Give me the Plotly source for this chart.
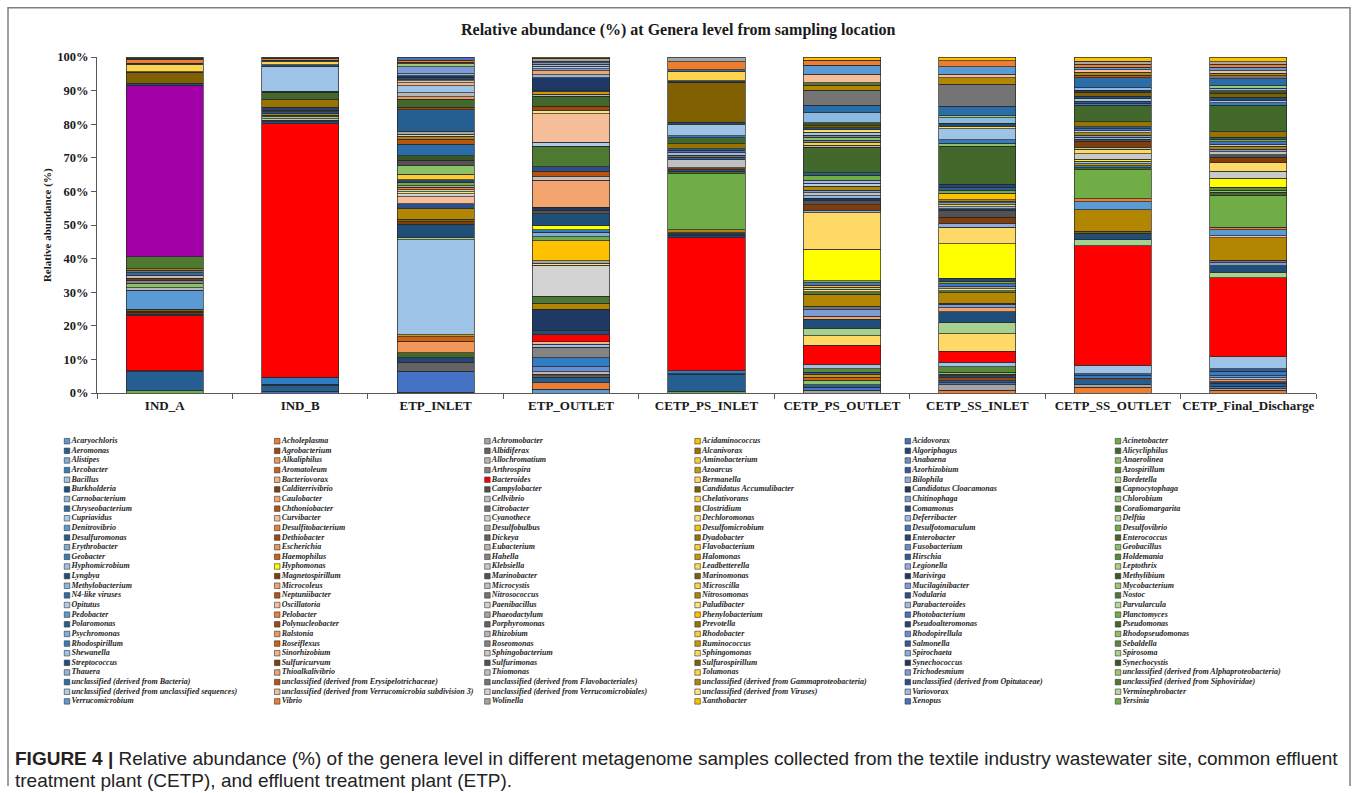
import colorsys
import plotly.graph_objects as go

# ---------------------------------------------------------------- data
SAMPLES = ["IND_A", "IND_B", "ETP_INLET", "ETP_OUTLET", "CETP_PS_INLET",
           "CETP_PS_OUTLET", "CETP_SS_INLET", "CETP_SS_OUTLET", "CETP_Final_Discharge"]

GENERA = [
    "Acaryochloris", "Acholeplasma", "Achromobacter", "Acidaminococcus", "Acidovorax", "Acinetobacter",
    "Aeromonas", "Agrobacterium", "Albidiferax", "Alcanivorax", "Algoriphagus", "Alicycliphilus",
    "Alistipes", "Alkaliphilus", "Allochromatium", "Aminobacterium", "Anabaena", "Anaerolinea",
    "Arcobacter", "Aromatoleum", "Arthrospira", "Azoarcus", "Azorhizobium", "Azospirillum",
    "Bacillus", "Bacteriovorax", "Bacteroides", "Bermanella", "Bilophila", "Bordetella",
    "Burkholderia", "Calditerrivibrio", "Campylobacter", "Candidatus Accumulibacter", "Candidatus Cloacamonas", "Capnocytophaga",
    "Carnobacterium", "Caulobacter", "Cellvibrio", "Chelativorans", "Chitinophaga", "Chlorobium",
    "Chryseobacterium", "Chthoniobacter", "Citrobacter", "Clostridium", "Comamonas", "Coraliomargarita",
    "Cupriavidus", "Curvibacter", "Cyanothece", "Dechloromonas", "Deferribacter", "Delftia",
    "Denitrovibrio", "Desulfitobacterium", "Desulfobulbus", "Desulfomicrobium", "Desulfotomaculum", "Desulfovibrio",
    "Desulfuromonas", "Dethiobacter", "Dickeya", "Dyadobacter", "Enterobacter", "Enterococcus",
    "Erythrobacter", "Escherichia", "Eubacterium", "Flavobacterium", "Fusobacterium", "Geobacillus",
    "Geobacter", "Haemophilus", "Hahella", "Halomonas", "Hirschia", "Holdemania",
    "Hyphomicrobium", "Hyphomonas", "Klebsiella", "Leadbetterella", "Legionella", "Leptothrix",
    "Lyngbya", "Magnetospirillum", "Marinobacter", "Marinomonas", "Marivirga", "Methylibium",
    "Methylobacterium", "Microcoleus", "Microcystis", "Microscilla", "Mucilaginibacter", "Mycobacterium",
    "N4-like viruses", "Neptuniibacter", "Nitrosococcus", "Nitrosomonas", "Nodularia", "Nostoc",
    "Opitutus", "Oscillatoria", "Paenibacillus", "Paludibacter", "Parabacteroides", "Parvularcula",
    "Pedobacter", "Pelobacter", "Phaeodactylum", "Phenylobacterium", "Photobacterium", "Planctomyces",
    "Polaromonas", "Polynucleobacter", "Porphyromonas", "Prevotella", "Pseudoalteromonas", "Pseudomonas",
    "Psychromonas", "Ralstonia", "Rhizobium", "Rhodobacter", "Rhodopirellula", "Rhodopseudomonas",
    "Rhodospirillum", "Roseiflexus", "Roseomonas", "Ruminococcus", "Salmonella", "Sebaldella",
    "Shewanella", "Sinorhizobium", "Sphingobacterium", "Sphingomonas", "Spirochaeta", "Spirosoma",
    "Streptococcus", "Sulfuricurvum", "Sulfurimonas", "Sulfurospirillum", "Synechococcus", "Synechocystis",
    "Thauera", "Thioalkalivibrio", "Thiomonas", "Tolumonas", "Trichodesmium",
    "unclassified (derived from Alphaproteobacteria)",
    "unclassified (derived from Bacteria)", "unclassified (derived from Erysipelotrichaceae)",
    "unclassified (derived from Flavobacteriales)", "unclassified (derived from Gammaproteobacteria)",
    "unclassified (derived from Opitutaceae)", "unclassified (derived from Siphoviridae)",
    "unclassified (derived from unclassified sequences)", "unclassified (derived from Verrucomicrobia subdivision 3)",
    "unclassified (derived from Verrucomicrobiales)", "unclassified (derived from Viruses)",
    "Variovorax", "Verminephrobacter",
    "Verrucomicrobium", "Vibrio", "Wolinella", "Xanthobacter", "Xenopus", "Yersinia",
]

UB = "unclassified (derived from Bacteria)"
UE = "unclassified (derived from Erysipelotrichaceae)"
UF = "unclassified (derived from Flavobacteriales)"
UG = "unclassified (derived from Gammaproteobacteria)"
US = "unclassified (derived from Siphoviridae)"
UA = "unclassified (derived from Alphaproteobacteria)"
UV3 = "unclassified (derived from Verrucomicrobia subdivision 3)"
UU = "unclassified (derived from unclassified sequences)"

# relative abundance (%) of each genus per sample
IND_A = {
    "Acinetobacter": 0.7, "Aeromonas": 5.6, "Algoriphagus": 0.3, "Bacteroides": 16.4,
    "Burkholderia": 0.5, "Calditerrivibrio": 0.5, "Campylobacter": 0.4, "Candidatus Accumulibacter": 0.5,
    "Denitrovibrio": 5.6, "Eubacterium": 0.8, "Geobacillus": 1.4, "Hahella": 0.8,
    "Magnetospirillum": 0.7, "Microcystis": 0.8, "N4-like viruses": 0.8, "Nitrosococcus": 0.7,
    "Nitrosomonas": 0.5, "Nostoc": 3.5, "Pseudomonas": 51.1, "Streptococcus": 0.5,
    "Sulfurospirillum": 3.1, "Synechococcus": 0.3, "Tolumonas": 2.1, UB: 0.4,
    "Vibrio": 1.2, "Xenopus": 0.4, "Yersinia": 0.3,
}
IND_B = {
    "Acidovorax": 0.6, "Aeromonas": 1.6, "Algoriphagus": 0.4, "Arcobacter": 1.9, "Azorhizobium": 0.2,
    "Bacteroides": 75.4, "Burkholderia": 0.6, "Campylobacter": 0.5, "Cellvibrio": 0.5,
    "Chlorobium": 0.5, "Citrobacter": 0.5, "Clostridium": 0.4, "Comamonas": 0.6, "Dickeya": 0.5,
    "Enterobacter": 0.8, "Prevotella": 2.4, "Pseudomonas": 2.1, "Salmonella": 0.4,
    "Shewanella": 7.2, "Streptococcus": 0.6, "Tolumonas": 0.9, UB: 0.5, "Vibrio": 0.6, "Xenopus": 0.3,
}
ETP_INLET = {
    "Achromobacter": 0.3, "Acidovorax": 6.2, "Albidiferax": 2.6, "Algoriphagus": 1.4,
    "Alicycliphilus": 1.5, "Alkaliphilus": 3.4, "Aromatoleum": 1.3, "Azoarcus": 0.7,
    "Bacillus": 28.3, "Bordetella": 0.6, "Burkholderia": 4.0, "Calditerrivibrio": 0.7,
    "Candidatus Accumulibacter": 0.7, "Clostridium": 3.2, "Comamonas": 1.5, "Curvibacter": 2.1,
    "Cyanothece": 0.8, "Dechloromonas": 0.6, "Delftia": 0.6, "Desulfitobacterium": 0.8,
    "Desulfobulbus": 0.4, "Desulfovibrio": 1.0, "Enterobacter": 0.8, "Flavobacterium": 1.7,
    "Geobacillus": 2.5, "Marinobacter": 1.6, "Methylibium": 1.3, "N4-like viruses": 3.4,
    "Neptuniibacter": 1.6, "Nitrosomonas": 0.8, "Paenibacillus": 0.6, "Phaeodactylum": 0.9,
    "Polaromonas": 6.5, "Polynucleobacter": 0.6, "Pseudomonas": 2.4, "Ralstonia": 0.8,
    "Rhizobium": 1.2, "Shewanella": 2.0, "Sinorhizobium": 0.9, "Sphingobacterium": 0.6,
    "Sphingomonas": 0.5, "Streptococcus": 0.6, "Synechococcus": 0.5, "Thauera": 0.5,
    "Trichodesmium": 2.2, UA: 0.8, UE: 0.5, "Vibrio": 0.6, "Xenopus": 0.9,
}
ETP_OUTLET = {
    "Acaryochloris": 1.1, "Acholeplasma": 2.0, "Aeromonas": 1.6, "Albidiferax": 0.4,
    "Alkaliphilus": 0.5, "Allochromatium": 0.7, "Anabaena": 1.5, "Arcobacter": 2.7,
    "Arthrospira": 3.2, "Bacillus": 0.8, "Bacteriovorax": 0.8, "Bacteroides": 2.0,
    "Burkholderia": 1.3, "Candidatus Cloacamonas": 6.4, "Clostridium": 1.8, "Coraliomargarita": 2.0,
    "Cyanothece": 9.2, "Dechloromonas": 0.6, "Desulfobulbus": 0.8, "Desulfomicrobium": 5.9,
    "Desulfovibrio": 1.2, "Erythrobacter": 1.4, "Geobacter": 0.7, "Hyphomonas": 1.2,
    "Lyngbya": 3.6, "Marinobacter": 1.0, "Marivirga": 0.9, "Microcoleus": 8.1,
    "Microcystis": 1.0, "Neptuniibacter": 1.6, "Nodularia": 1.3, "Nostoc": 6.2,
    "Opitutus": 1.2, "Oscillatoria": 8.4, "Paludibacter": 1.1, "Polynucleobacter": 1.2,
    "Pseudomonas": 2.9, "Rhizobium": 0.6, "Ruminococcus": 0.8, "Salmonella": 0.3,
    "Synechococcus": 3.8, "Thauera": 1.0, "Thioalkalivibrio": 1.1, "Trichodesmium": 0.6,
    UU: 0.8, "Variovorax": 0.6, "Verrucomicrobium": 0.4, "Vibrio": 0.5, "Wolinella": 0.8,
    "Xanthobacter": 0.4,
}
CETP_PS_INLET = {
    "Acinetobacter": 0.5, "Aeromonas": 4.9, "Algoriphagus": 0.3, "Arcobacter": 0.9,
    "Bacteroides": 39.6, "Burkholderia": 0.7, "Candidatus Cloacamonas": 0.7, "Clostridium": 0.8,
    "Desulfovibrio": 16.7, "Enterococcus": 0.6, "Lyngbya": 0.6, "Magnetospirillum": 0.6,
    "Microcystis": 2.5, "N4-like viruses": 0.6, "Nitrosococcus": 0.5, "Parabacteroides": 0.8,
    "Photobacterium": 0.8, "Polaromonas": 0.4, "Prevotella": 1.5, "Pseudomonas": 1.7,
    "Rhodospirillum": 0.7, "Shewanella": 3.3, "Streptococcus": 0.7, "Sulfurospirillum": 11.8,
    "Synechococcus": 0.5, "Tolumonas": 2.8, UB: 0.4, "Vibrio": 2.4, "Wolinella": 1.4,
}
CETP_PS_OUTLET = {
    "Achromobacter": 0.9, "Acidovorax": 0.8, "Aeromonas": 0.8, "Anaerolinea": 1.3,
    "Aromatoleum": 0.9, "Azoarcus": 0.9, "Azorhizobium": 0.6, "Azospirillum": 1.0,
    "Bacillus": 1.3, "Bacteroides": 5.8, "Bermanella": 2.7, "Bordetella": 2.3,
    "Burkholderia": 2.6, "Caulobacter": 1.0, "Chitinophaga": 1.9, "Citrobacter": 1.0,
    "Clostridium": 3.6, "Coraliomargarita": 0.8, "Dechloromonas": 0.7, "Delftia": 0.6,
    "Desulfomicrobium": 0.6, "Desulfotomaculum": 0.8, "Desulfovibrio": 0.6, "Hyphomonas": 9.3,
    "Leadbetterella": 10.8, "Legionella": 0.8, "Magnetospirillum": 1.6, "Marinobacter": 1.2,
    "Marivirga": 0.8, "Methylobacterium": 0.8, "Microcystis": 0.8, "Mucilaginibacter": 0.8,
    "Nitrosomonas": 1.2, "Opitutus": 0.9, "Parabacteroides": 0.9, "Planctomyces": 1.4,
    "Polaromonas": 0.8, "Pseudomonas": 7.5, "Rhizobium": 0.7, "Rhodobacter": 0.8,
    "Rhodopirellula": 0.7, "Rhodopseudomonas": 0.9, "Roseomonas": 0.6, "Shewanella": 0.9,
    "Sphingomonas": 0.7, "Streptococcus": 0.6, "Sulfurospirillum": 0.6, "Synechocystis": 0.9,
    "Thauera": 3.0, UB: 2.2, UF: 4.5, UG: 1.4, US: 0.8, UV3: 2.5,
    "Verrucomicrobium": 2.7, "Vibrio": 1.4, "Xanthobacter": 1.0,
}
CETP_SS_INLET = {
    "Acholeplasma": 0.9, "Achromobacter": 1.6, "Acidovorax": 0.5, "Aeromonas": 0.7,
    "Agrobacterium": 0.8, "Algoriphagus": 0.6, "Alicycliphilus": 0.5, "Anaerolinea": 0.6,
    "Azospirillum": 1.6, "Bacillus": 1.3, "Bacteroides": 3.3, "Bermanella": 5.2,
    "Bordetella": 3.4, "Burkholderia": 3.2, "Caulobacter": 1.2, "Chitinophaga": 1.0,
    "Citrobacter": 0.4, "Clostridium": 3.0, "Coraliomargarita": 0.7, "Dechloromonas": 0.6,
    "Desulfobulbus": 0.6, "Desulfotomaculum": 0.8, "Desulfovibrio": 0.8, "Enterobacter": 0.8,
    "Hyphomonas": 10.3, "Leadbetterella": 5.0, "Legionella": 1.2, "Magnetospirillum": 1.8,
    "Marinobacter": 1.8, "Marivirga": 0.6, "Methylobacterium": 0.6, "Microscilla": 0.6,
    "Mucilaginibacter": 0.6, "Mycobacterium": 0.5, "Nitrosomonas": 0.5, "Phenylobacterium": 1.8,
    "Planctomyces": 0.9, "Polaromonas": 0.8, "Pseudoalteromonas": 1.0, "Pseudomonas": 11.4,
    "Rhodopseudomonas": 0.9, "Rhodospirillum": 1.0, "Shewanella": 3.2, "Sphingomonas": 0.8,
    "Streptococcus": 0.9, "Thauera": 1.6, UA: 0.6, UB: 2.9, UF: 6.5, UG: 2.0, UV3: 1.0,
    "Verrucomicrobium": 2.2, "Vibrio": 1.8, "Xanthobacter": 1.1,
}
CETP_SS_OUTLET = {
    "Acholeplasma": 1.7, "Achromobacter": 0.8, "Aeromonas": 1.4, "Alkaliphilus": 0.5,
    "Arcobacter": 0.8, "Azorhizobium": 0.6, "Bacillus": 2.5, "Bacteroides": 35.6,
    "Bordetella": 1.8, "Burkholderia": 1.9, "Candidatus Accumulibacter": 0.6, "Clostridium": 6.3,
    "Denitrovibrio": 2.5, "Desulfitobacterium": 0.9, "Desulfovibrio": 8.5, "Enterococcus": 0.6,
    "Geobacter": 0.7, "Halomonas": 0.6, "Hyphomicrobium": 0.7, "Hyphomonas": 0.6,
    "Klebsiella": 1.7, "Leadbetterella": 1.3, "Leptothrix": 0.6, "Magnetospirillum": 1.7,
    "Marinobacter": 0.6, "Methylobacterium": 0.7, "Mucilaginibacter": 0.6, "Nitrosomonas": 0.7,
    "Opitutus": 0.6, "Photobacterium": 0.6, "Polaromonas": 0.5, "Prevotella": 1.6,
    "Pseudomonas": 4.8, "Rhodospirillum": 0.7, "Salmonella": 0.6, "Shewanella": 0.7,
    "Streptococcus": 0.7, "Sulfurospirillum": 1.2, "Synechococcus": 0.6, "Thauera": 0.8,
    UB: 3.0, UE: 0.7, UG: 0.9, UV3: 0.7, "Verrucomicrobium": 0.8, "Vibrio": 0.8,
    "Wolinella": 1.0, "Xanthobacter": 1.2,
}
CETP_FINAL_DISCHARGE = {
    "Acholeplasma": 0.9, "Achromobacter": 0.6, "Acidovorax": 0.6, "Aeromonas": 0.7,
    "Algoriphagus": 0.6, "Alkaliphilus": 0.6, "Allochromatium": 0.6, "Anabaena": 0.6,
    "Arcobacter": 1.3, "Azorhizobium": 0.8, "Bacillus": 3.5, "Bacteroides": 23.5,
    "Bordetella": 1.6, "Burkholderia": 2.0, "Chitinophaga": 0.9, "Citrobacter": 0.8,
    "Clostridium": 6.7, "Curvibacter": 0.5, "Denitrovibrio": 1.8, "Desulfitobacterium": 0.8,
    "Desulfovibrio": 9.5, "Enterococcus": 0.8, "Geobacillus": 0.7, "Holdemania": 0.8,
    "Hyphomonas": 2.8, "Klebsiella": 2.0, "Leadbetterella": 2.6, "Magnetospirillum": 1.6,
    "Marinobacter": 0.8, "Microcystis": 0.9, "Mucilaginibacter": 0.7, "Nitrosomonas": 0.8,
    "Opitutus": 0.7, "Photobacterium": 0.7, "Planctomyces": 0.7, "Polaromonas": 0.7,
    "Prevotella": 1.6, "Pseudomonas": 7.8, "Rhodospirillum": 0.8, "Shewanella": 0.8,
    "Streptococcus": 0.8, "Sulfurospirillum": 1.2, "Synechocystis": 0.8, "Thauera": 0.8,
    UA: 0.6, UB: 2.2, UF: 0.8, UG: 0.8, UV3: 0.8, "Verrucomicrobium": 1.0,
    "Vibrio": 0.8, "Wolinella": 0.8, "Xanthobacter": 1.4,
}
ABUNDANCE = [IND_A, IND_B, ETP_INLET, ETP_OUTLET, CETP_PS_INLET,
             CETP_PS_OUTLET, CETP_SS_INLET, CETP_SS_OUTLET, CETP_FINAL_DISCHARGE]

TITLE = "Relative abundance (%) at Genera level from sampling location"
Y_TITLE = "Relative abundance (%)"
CAPTION_1 = ("Relative abundance (%) of the genera level in different metagenome samples collected "
             "from the textile industry wastewater site, common effluent")
CAPTION_2 = "treatment plant (CETP), and effluent treatment plant (ETP)."

# ---------------------------------------------------------------- colours
ACCENTS = ["#5B9BD5", "#ED7D31", "#A5A5A5", "#FFC000", "#4472C4", "#70AD47"]
# (luminance multiplier, luminance offset) cycled every six series
SHADES = [(1.0, 0.0), (0.6, 0.0), (0.8, 0.2), (0.8, 0.0), (0.6, 0.4),
          (0.5, 0.0), (0.7, 0.3), (0.7, 0.0), (0.5, 0.5)]
SERIES_OVERRIDES = {"Bacteroides": "#FF0000", "Hyphomonas": "#FFFF00"}
POINT_OVERRIDES = {("Pseudomonas", "IND_A"): "#A100A6"}


def shade(hex_color, mod, off):
    r, g, b = (int(hex_color[k:k + 2], 16) / 255 for k in (1, 3, 5))
    h, l, s = colorsys.rgb_to_hls(r, g, b)
    l = min(1.0, l * mod + off)
    r, g, b = colorsys.hls_to_rgb(h, l, s)
    return "#%02X%02X%02X" % (round(r * 255), round(g * 255), round(b * 255))


SERIES_COLORS = []
for i, g in enumerate(GENERA):
    base = shade(ACCENTS[i % 6], *SHADES[(i // 6) % 9])
    SERIES_COLORS.append(SERIES_OVERRIDES.get(g, base))

# ---------------------------------------------------------------- figure
W, H = 1356, 793
PL, PR, PT, PB = 97, 1316, 51, 393          # plot box in pixels
SERIF = "Liberation Serif"
INK = "#1a1a1a"
AXIS = "#595959"

fig = go.Figure()

for g, col in zip(GENERA, SERIES_COLORS):
    ys = [d.get(g) for d in ABUNDANCE]
    colors = [POINT_OVERRIDES.get((g, s), col) for s in SAMPLES]
    fig.add_trace(go.Bar(
        x=SAMPLES, y=ys, name=g,
        marker=dict(color=colors, line=dict(color="#262626", width=0.7)),
        showlegend=False, xaxis="x", yaxis="y",
        hovertemplate="%{x}<br>" + g + ": %{y:.1f}%<extra></extra>",
    ))

# legend grid: 6 columns, filled row by row
LEG_X0, LEG_DX, LEG_Y0, LEG_DY = 67, 210.2, 442, 9.81
fig.add_trace(go.Scatter(
    x=[LEG_X0 + (i % 6) * LEG_DX for i in range(len(GENERA))],
    y=[LEG_Y0 + (i // 6) * LEG_DY for i in range(len(GENERA))],
    xaxis="x2", yaxis="y2", mode="markers+text",
    marker=dict(symbol="square", size=5.5, color=SERIES_COLORS,
                line=dict(color="#333333", width=0.6)),
    text=["<b><i>%s</i></b>" % g for g in GENERA],
    textposition="middle right",
    textfont=dict(family=SERIF, size=8, color="#1f1f1f"),
    hoverinfo="skip", showlegend=False, cliponaxis=False,
))

annotations = [
    dict(x=678, y=23.5, text="<b>%s</b>" % TITLE, font=dict(family=SERIF, size=16, color=INK)),
    dict(x=47, y=(PT + PB) / 2, text="<b>%s</b>" % Y_TITLE, textangle=-90,
         font=dict(family=SERIF, size=11, color=INK)),
    dict(x=13, y=765, xanchor="left", text="<b>FIGURE 4 |</b> " + CAPTION_1,
         font=dict(family="Liberation Sans", size=19, color="#222222")),
    dict(x=13, y=787, xanchor="left", text=CAPTION_2,
         font=dict(family="Liberation Sans", size=19, color="#222222")),
]
for a in annotations:
    a.update(xref="x2", yref="y2", showarrow=False)

fig.update_layout(
    width=W, height=H, margin=dict(l=0, r=0, t=0, b=0),
    paper_bgcolor="white", plot_bgcolor="rgba(0,0,0,0)",
    barmode="stack", barnorm="percent", bargap=0.43,
    font=dict(family=SERIF, color=INK),
    xaxis=dict(domain=[PL / W, PR / W], anchor="y", type="category",
               showline=True, linecolor=AXIS, linewidth=1, mirror=False,
               ticks="outside", tickson="boundaries", ticklen=5, tickcolor=AXIS,
               tickangle=0,
               tickfont=dict(family=SERIF, size=13, color=INK, weight="bold"),
               showgrid=False, fixedrange=True),
    yaxis=dict(domain=[(H - PB) / H, (H - PT) / H], anchor="x", range=[0, 100],
               tickvals=list(range(0, 101, 10)),
               ticktext=["%d%%" % v for v in range(0, 101, 10)],
               showline=True, linecolor=AXIS, linewidth=1,
               ticks="outside", ticklen=5, tickcolor=AXIS,
               tickfont=dict(family=SERIF, size=12.5, color=INK, weight="bold"),
               showgrid=False, zeroline=False, fixedrange=True),
    xaxis2=dict(domain=[0, 1], anchor="y2", range=[0, W], visible=False, fixedrange=True),
    yaxis2=dict(domain=[0, 1], anchor="x2", range=[H, 0], visible=False, fixedrange=True),
    annotations=annotations,
    shapes=[dict(type="rect", xref="x2", yref="y2", x0=8, y0=0.8, x1=1350, y1=H + 10,
                 line=dict(color="#808080", width=1.5), layer="below")],
)

# keep the page exactly the size of the figure
fig.write_html("out.html",
               post_script="document.body.style.margin='0';"
                           "document.body.style.overflow='hidden';")
